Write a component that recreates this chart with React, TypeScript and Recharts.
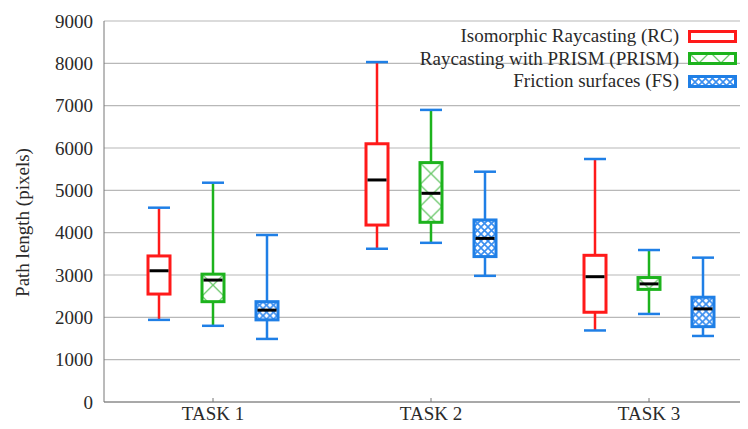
import React from 'react';
import {
  ComposedChart,
  Bar,
  XAxis,
  YAxis,
  CartesianGrid,
  Legend
} from 'recharts';

// box stats per task: [min, q1, median, q3, max]
const tasks = ['TASK 1', 'TASK 2', 'TASK 3'];
const rcStats = [
  [1940, 2550, 3100, 3450, 4590],
  [3620, 4180, 5245, 6100, 8030],
  [1690, 2120, 2960, 3465, 5740]
];
const prismStats = [
  [1800, 2370, 2880, 3020, 5180],
  [3760, 4245, 4930, 5655, 6900],
  [2080, 2660, 2790, 2940, 3590]
];
const fsStats = [
  [1490, 1940, 2170, 2370, 3945],
  [2980, 3435, 3865, 4300, 5440],
  [1560, 1780, 2200, 2475, 3410]
];
const yTicks = [0, 1000, 2000, 3000, 4000, 5000, 6000, 7000, 8000, 9000];

const RED = '#ff1a1a';
const GREEN = '#1db31d';
const BLUE = '#1f7fe6';
const FONT = '"Liberation Serif", "Times New Roman", serif';
const TXT = '#2a2a2a';

const data = tasks.map((task, i) => ({
  task,
  rc: [rcStats[i][0], rcStats[i][4]],
  prism: [prismStats[i][0], prismStats[i][4]],
  fs: [fsStats[i][0], fsStats[i][4]]
}));

const Hatch = ({ id, kind, x, y }: any) => {
  if (kind === 'prism') {
    return (
      <pattern id={id} x={x} y={y} width={22} height={22} patternUnits="userSpaceOnUse">
        <rect width={22} height={22} fill="#fff" />
        <path d="M0 0 L22 22 M22 0 L0 22" stroke="#6cc86c" strokeWidth={1.3} />
      </pattern>
    );
  }
  if (kind === 'fs') {
    return (
      <pattern id={id} x={x} y={y} width={7} height={7} patternUnits="userSpaceOnUse">
        <rect width={7} height={7} fill="#fff" />
        <path d="M0 0 L7 7 M7 0 L0 7" stroke="#3a8ef0" strokeWidth={1.6} />
      </pattern>
    );
  }
  return null;
};

const makeBox = (stats: number[][], color: string, kind: string) => (props: any) => {
  const { x, y, width, height, index } = props;
  const [min, q1, med, q3, max] = stats[index];
  const k = height / (max - min);
  const py = (v: number) => y + (max - v) * k;
  const cx = x + width / 2;
  const pid = `hatch-${kind}-${index}`;
  return (
    <g>
      <defs>
        <Hatch id={pid} kind={kind} x={x} y={py(q3)} />
      </defs>
      <line x1={cx} x2={cx} y1={py(max)} y2={py(q3)} stroke={color} strokeWidth={2.5} />
      <line x1={cx} x2={cx} y1={py(q1)} y2={py(min)} stroke={color} strokeWidth={2.5} />
      <line x1={x} x2={x + width} y1={py(max)} y2={py(max)} stroke={BLUE} strokeWidth={2.5} />
      <line x1={x} x2={x + width} y1={py(min)} y2={py(min)} stroke={BLUE} strokeWidth={2.5} />
      <rect
        x={x}
        y={py(q3)}
        width={width}
        height={py(q1) - py(q3)}
        fill={kind === 'rc' ? '#fff' : `url(#${pid})`}
        stroke={color}
        strokeWidth={3}
      />
      <line x1={x + 1.5} x2={x + width - 1.5} y1={py(med)} y2={py(med)} stroke="#000" strokeWidth={3} />
    </g>
  );
};

const legendItems = [
  { label: 'Isomorphic Raycasting (RC)', color: RED, kind: 'rc' },
  { label: 'Raycasting with PRISM (PRISM)', color: GREEN, kind: 'prism' },
  { label: 'Friction surfaces (FS)', color: BLUE, kind: 'fs' }
];

const renderLegend = () => (
  <div style={{ fontFamily: FONT, fontSize: 19, color: TXT }}>
    {legendItems.map((it) => (
      <div
        key={it.kind}
        style={{ display: 'flex', justifyContent: 'flex-end', alignItems: 'center', height: 22.5 }}
      >
        <span style={{ marginRight: 9 }}>{it.label}</span>
        <svg width={50} height={13}>
          <defs>
            <Hatch id={`lg-${it.kind}`} kind={it.kind} x={0} y={0} />
          </defs>
          <rect
            x={1.5}
            y={1.5}
            width={46}
            height={10}
            fill={it.kind === 'rc' ? '#fff' : `url(#lg-${it.kind})`}
            stroke={it.color}
            strokeWidth={3}
          />
        </svg>
      </div>
    ))}
  </div>
);

const YLabel = ({ viewBox }: any) => {
  const lx = viewBox.x + 14;
  const ly = viewBox.y + viewBox.height / 2 + 11;
  return (
    <text
      x={lx}
      y={ly}
      transform={`rotate(-90, ${lx}, ${ly})`}
      textAnchor="middle"
      dominantBaseline="central"
      style={{ fontFamily: FONT, fontSize: 19, fill: TXT }}
    >
      Path length (pixels)
    </text>
  );
};

const tickStyle = { fontFamily: FONT, fontSize: 19, fill: TXT, style: { fontFamily: FONT } };

export default function App() {
  return (
    <div style={{ width: 740, height: 421, overflow: 'hidden', position: 'relative', fontFamily: FONT }}>
      <ComposedChart
        width={760}
        height={421}
        data={data}
        margin={{ top: 13, right: 10, bottom: 0, left: 0 }}
        barSize={22}
        barGap={32}
        style={{ fontFamily: FONT }}
      >
        <CartesianGrid vertical={false} stroke="#b8b8b8" strokeWidth={1.2} />
        <XAxis
          dataKey="task"
          height={27}
          stroke="#777"
          tickSize={-4}
          tickMargin={9}
          tick={tickStyle}
        />
        <YAxis
          width={96}
          domain={[0, 9000]}
          ticks={yTicks}
          interval={0}
          stroke="#777"
          tickLine={false}
          tickMargin={5}
          tick={tickStyle}
          label={<YLabel />}
        />
        <Legend
          layout="horizontal"
          verticalAlign="middle"
          align="center"
          content={renderLegend}
          wrapperStyle={{ top: 17, left: 250, width: 480 }}
        />
        <Bar dataKey="rc" isAnimationActive={false} shape={makeBox(rcStats, RED, 'rc')} />
        <Bar dataKey="prism" isAnimationActive={false} shape={makeBox(prismStats, GREEN, 'prism')} />
        <Bar dataKey="fs" isAnimationActive={false} shape={makeBox(fsStats, BLUE, 'fs')} />
      </ComposedChart>
    </div>
  );
}
